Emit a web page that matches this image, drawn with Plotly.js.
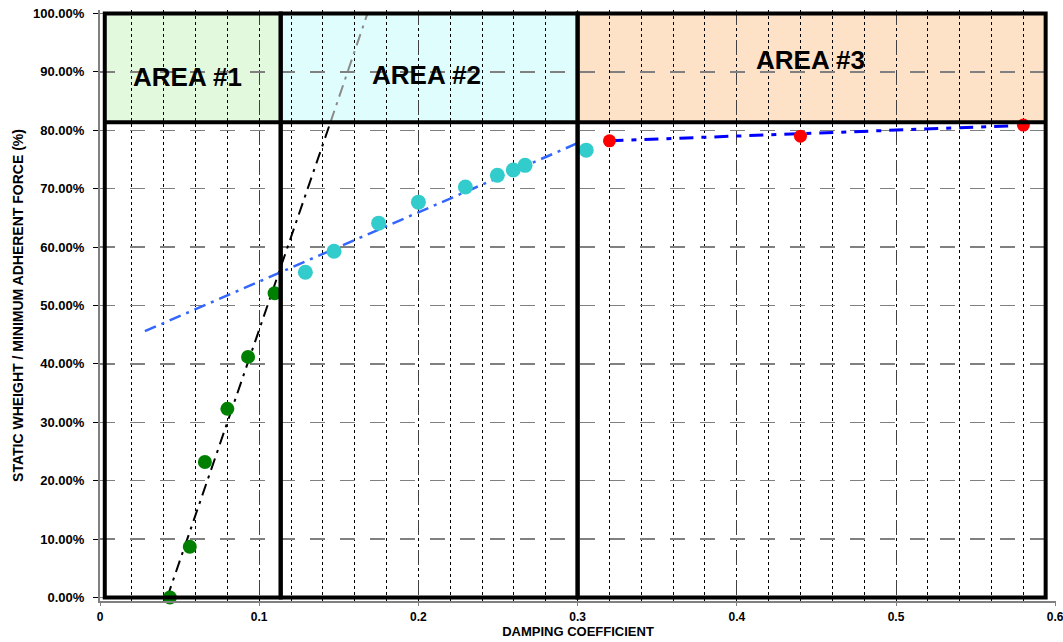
<!DOCTYPE html>
<html>
<head>
<meta charset="utf-8">
<script src="https://cdn.plot.ly/plotly-3.0.1.min.js"></script>
<style>html,body{margin:0;padding:0;background:#fff;}#chart{width:1063px;height:642px;}</style>
</head>
<body>
<div id="chart"></div>
<script>
// ---- data ----
const area1X = [0.0439, 0.0564, 0.0659, 0.0800, 0.0930, 0.1097];
const area1Y = [0.000, 0.087, 0.232, 0.323, 0.412, 0.521];
const area2X = [0.129, 0.147, 0.175, 0.200, 0.2295, 0.2496, 0.2596, 0.267, 0.3054];
const area2Y = [0.557, 0.593, 0.641, 0.677, 0.703, 0.723, 0.732, 0.740, 0.766];
const area3X = [0.320, 0.440, 0.580];
const area3Y = [0.782, 0.790, 0.809];

// trend lines (end points)
const trend1X = [0.0422, 0.1448];
const trend1Y = [0.000, 0.814];
const trend1UpperX = [0.1448, 0.168];
const trend1UpperY = [0.814, 1.000];
const trend2X = [0.0282, 0.300];
const trend2Y = [0.456, 0.778];
const trend3X = [0.320, 0.575];
const trend3Y = [0.782, 0.808];

// area zones
const areaBounds = [0.003, 0.1135, 0.300, 0.594];
const bandBottom = 0.814;
const bandTop = 1.0;
const areaLabels = ["AREA #1", "AREA #2", "AREA #3"];
const areaLabelX = [0.0549, 0.2048, 0.446];
const areaLabelY = [0.891, 0.894, 0.920];
const areaColors = ["#e2f9de", "#e0fdfd", "#fde2c8"];

// ticks
const xTickVals = [0, 0.1, 0.2, 0.3, 0.4, 0.5, 0.6];
const xTickText = ["0", "0.1", "0.2", "0.3", "0.4", "0.5", "0.6"];
const yTickVals = [0, 0.1, 0.2, 0.3, 0.4, 0.5, 0.6, 0.7, 0.8, 0.9, 1.0];

const FONT = "Liberation Sans, Arial, sans-serif";

const traces = [
  {x: trend1X, y: trend1Y, mode: "lines", line: {color: "#000000", width: 2, dash: "12px,6px,3px,6px"}, hoverinfo: "skip"},
  {x: trend1UpperX, y: trend1UpperY, mode: "lines", line: {color: "#8a8a8a", width: 2, dash: "12px,6px,3px,6px"}, hoverinfo: "skip"},
  {x: trend2X, y: trend2Y, mode: "lines", line: {color: "#3366ff", width: 2.5, dash: "12px,6px,3px,6px"}, hoverinfo: "skip"},
  {x: trend3X, y: trend3Y, mode: "lines", line: {color: "#0000ff", width: 3, dash: "14px,8px,5px,8px"}, hoverinfo: "skip"},
  {x: area1X, y: area1Y, mode: "markers", marker: {color: "#008000", size: 14}, cliponaxis: false, name: "Area 1"},
  {x: area2X, y: area2Y, mode: "markers", marker: {color: "#33cccc", size: 15}, cliponaxis: false, name: "Area 2"},
  {x: area3X, y: area3Y, mode: "markers", marker: {color: "#ff0000", size: 13}, cliponaxis: false, name: "Area 3"}
];

const shapes = [];
for (let i = 0; i < 3; i++) {
  shapes.push({type: "rect", xref: "x", yref: "y", x0: areaBounds[i], x1: areaBounds[i+1], y0: bandBottom, y1: bandTop,
    fillcolor: areaColors[i], line: {width: 0}, layer: "below"});
}
for (let i = 0; i < 3; i++) {
  shapes.push({type: "rect", xref: "x", yref: "y", x0: areaBounds[i], x1: areaBounds[i+1], y0: 0, y1: bandTop,
    fillcolor: "rgba(0,0,0,0)", line: {color: "#000000", width: 4}, layer: "above"});
}
shapes.push({type: "line", xref: "x", yref: "y", x0: areaBounds[0], x1: areaBounds[3], y0: bandBottom, y1: bandBottom,
  line: {color: "#000000", width: 4}, layer: "above"});

const annotations = areaLabels.map((t, i) => ({
  x: areaLabelX[i], y: areaLabelY[i], xref: "x", yref: "y", text: t, showarrow: false,
  font: {family: FONT, size: 26, color: "#000000", weight: "bold"}
}));

const layout = {
  width: 1063, height: 642,
  margin: {l: 100, r: 7, t: 10, b: 41, pad: 0},
  paper_bgcolor: "#ffffff", plot_bgcolor: "#ffffff",
  showlegend: false,
  font: {family: FONT, color: "#000000"},
  xaxis: {
    range: [0, 0.6005], tickvals: xTickVals, ticktext: xTickText,
    showgrid: true, gridcolor: "#404040", griddash: "longdash", gridwidth: 1,
    minor: {dtick: 0.02, tick0: 0, showgrid: true, gridcolor: "#000000", griddash: "dot", gridwidth: 1, ticks: ""},
    zeroline: false, showline: true, linecolor: "#808080", linewidth: 1.5,
    ticks: "outside", ticklen: 3, tickcolor: "#808080", ticklabelstandoff: 1,
    ticklabeloverflow: "allow",
    tickfont: {family: FONT, size: 12, weight: "bold"},
    title: {text: "DAMPING COEFFICIENT", font: {family: FONT, size: 13, weight: "bold"}, standoff: 1}
  },
  yaxis: {
    range: [-0.006, 1.006], tickvals: yTickVals, tickformat: ".2%",
    showgrid: true, gridcolor: "#808080", griddash: "longdash", gridwidth: 1.5,
    zeroline: false, showline: true, linecolor: "#808080", linewidth: 2,
    ticks: "outside", ticklen: 5, tickcolor: "#000000", ticklabelstandoff: 6,
    tickfont: {family: FONT, size: 13, weight: "bold"},
    title: {text: "STATIC WHEIGHT / MINIMUM ADHERENT FORCE (%)", font: {family: FONT, size: 14, weight: "bold"}, standoff: 6}
  },
  shapes: shapes,
  annotations: annotations
};

Plotly.newPlot("chart", traces, layout, {displayModeBar: false, staticPlot: true});
</script>
</body>
</html>
